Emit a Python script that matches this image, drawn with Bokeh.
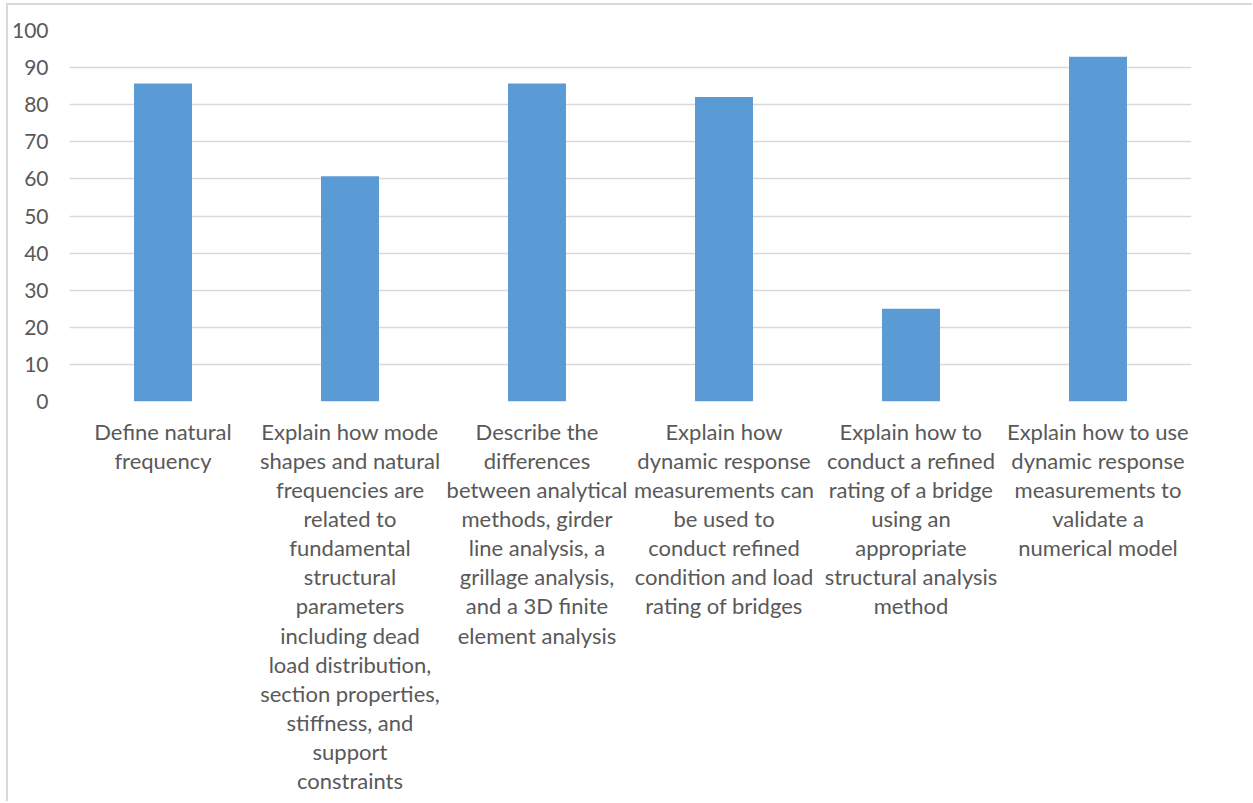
from bokeh.plotting import figure
from bokeh.models import ColumnDataSource, FactorRange
from bokeh.embed import file_html
from bokeh.resources import INLINE

# Learning outcomes, wrapped the way they are printed under each bar
outcomes = [
    "Define natural\nfrequency",
    "Explain how mode\nshapes and natural\nfrequencies are\nrelated to\nfundamental\nstructural\nparameters\nincluding dead\nload distribution,\nsection properties,\nstiffness, and\nsupport\nconstraints",
    "Describe the\ndifferences\nbetween analytical\nmethods, girder\nline analysis, a\ngrillage analysis,\nand a 3D finite\nelement analysis",
    "Explain how\ndynamic response\nmeasurements can\nbe used to\nconduct refined\ncondition and load\nrating of bridges",
    "Explain how to\nconduct a refined\nrating of a bridge\nusing an\nappropriate\nstructural analysis\nmethod",
    "Explain how to use\ndynamic response\nmeasurements to\nvalidate a\nnumerical model",
]
# Percentage of respondents
percent = [85.7, 60.7, 85.7, 82.1, 25.0, 92.9]
y_ticks = [0, 10, 20, 30, 40, 50, 60, 70, 80, 90, 100]

FONT = "Lato"
TEXT_COLOR = "#595959"
GRID_COLOR = "#d9d9d9"
BAR_COLOR = "#5b9bd5"

source = ColumnDataSource(dict(outcome=outcomes, percent=percent))

p = figure(
    width=1246, height=798,
    x_range=FactorRange(factors=outcomes, range_padding=0),
    y_range=(0, 100),
    output_backend="svg", toolbar_location=None,
    min_border_left=60, min_border_right=63,
    min_border_top=25, min_border_bottom=402,
)
# Light frame around the whole chart area
p.styles = {
    "margin-left": "6px", "margin-top": "3px",
    "border-left": "2px solid #d9d9d9", "border-top": "2px solid #d9d9d9",
}

p.vbar(x="outcome", top="percent", width=0.31, source=source,
       fill_color=BAR_COLOR, line_color=None)

p.outline_line_color = None
p.background_fill_color = "white"
p.border_fill_color = "white"

p.xgrid.grid_line_color = None
p.ygrid.grid_line_color = GRID_COLOR
p.ygrid.grid_line_width = 1.3

p.yaxis.ticker = y_ticks
p.yaxis.axis_line_color = None
p.yaxis.major_tick_line_color = None
p.yaxis.minor_tick_line_color = None
p.yaxis.major_tick_out = 0
p.yaxis.major_tick_in = 0
p.yaxis.major_label_standoff = 21
p.yaxis.major_label_text_font = FONT
p.yaxis.major_label_text_font_size = "21px"
p.yaxis.major_label_text_color = TEXT_COLOR

p.xaxis.axis_line_color = None
p.xaxis.major_tick_line_color = None
p.xaxis.major_tick_out = 0
p.xaxis.major_tick_in = 0
p.xaxis.major_label_standoff = 16
p.xaxis.major_label_text_font = FONT
p.xaxis.major_label_text_font_size = "22px"
p.xaxis.major_label_text_color = TEXT_COLOR
p.xaxis.major_label_text_line_height = 1.08
p.xaxis.major_label_text_align = "center"

open("out.html", "w").write(file_html(p, INLINE))
